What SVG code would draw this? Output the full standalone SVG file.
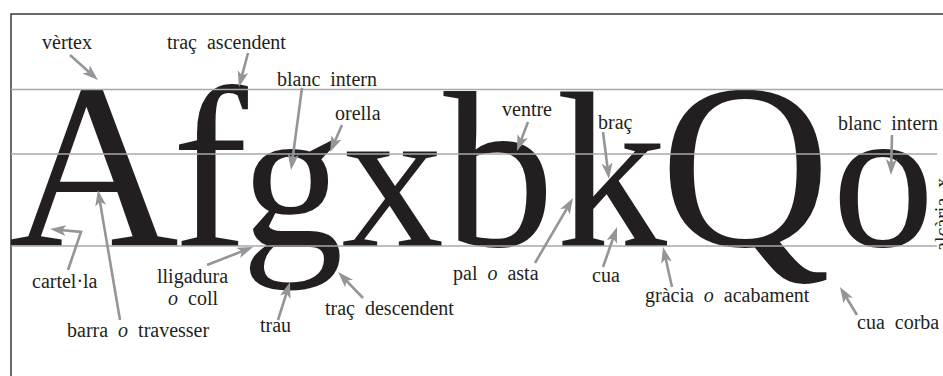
<svg xmlns="http://www.w3.org/2000/svg" width="943" height="376" viewBox="0 0 943 376">
<style>
.lbl{font-family:"Liberation Serif","Times New Roman",serif;font-size:20px;fill:#231f20;word-spacing:5px}
.big{font-family:"Liberation Serif","Times New Roman",serif;fill:#231f20}
.it{font-style:italic}
.guide{stroke:#a7a9ac;stroke-width:1.5;fill:none}
.frame{stroke:#3a3a3a;stroke-width:1.5;fill:none}
.arr{stroke:#939598;stroke-width:2.6;fill:none;marker-end:url(#ah)}
</style>
<defs>
<marker id="ah" markerUnits="userSpaceOnUse" markerWidth="16" markerHeight="11" refX="8" refY="5.5" orient="auto">
<path d="M0,0 L16,5.5 L0,11 L4,5.5 Z" fill="#939598"/>
</marker>
</defs>
<rect width="943" height="376" fill="#ffffff"/>
<g id="frame">
<path class="frame" d="M11,376 L11,14 L943,14"/>
</g>
<g id="letters">
<text class="big" x="8.5" y="246" font-size="236">A</text>
<text class="big" x="172" y="246" font-size="228">f</text>
<text class="big" x="241" y="246" font-size="205">g</text>
<text class="big" x="341.5" y="246" font-size="205">x</text>
<text class="big" x="443.5" y="246" font-size="222">b</text>
<text class="big" x="556" y="246" font-size="222">k</text>
<text class="big" x="660" y="246" font-size="236">Q</text>
<text class="big" x="832" y="246" font-size="205">o</text>
</g>
<g id="guides">
<line class="guide" x1="11" y1="89.5" x2="943" y2="89.5"/>
<line class="guide" x1="11" y1="154" x2="937" y2="154"/>
<line class="guide" x1="11" y1="246" x2="937" y2="246"/>
</g>
<g id="height-label">
<text class="lbl" transform="translate(949,251) rotate(-90)">alçària x</text>
</g>
<g id="connectors">
<line class="arr" x1="70" y1="55" x2="92" y2="74.7"/>
<line class="arr" x1="248" y1="53" x2="241" y2="79.3"/>
<line class="arr" x1="302" y1="88" x2="292.1" y2="162.1"/>
<line class="arr" x1="342" y1="125" x2="333.3" y2="144.7"/>
<line class="arr" x1="528" y1="122" x2="519.8" y2="143.5"/>
<line class="arr" x1="603" y1="132" x2="608" y2="171.1"/>
<line class="arr" x1="892" y1="135" x2="891.2" y2="167"/>
<polyline class="arr" points="68,270 81,232 58,229.8"/>
<line class="arr" x1="120" y1="320" x2="99.3" y2="197.9"/>
<line class="arr" x1="207" y1="265" x2="245.6" y2="249.9"/>
<line class="arr" x1="278" y1="320" x2="287.6" y2="289.6"/>
<line class="arr" x1="363" y1="298" x2="343.6" y2="277.8"/>
<line class="arr" x1="535" y1="263" x2="569" y2="204.9"/>
<line class="arr" x1="603" y1="267" x2="614.4" y2="234.5"/>
<line class="arr" x1="672" y1="287" x2="664.8" y2="254.8"/>
<line class="arr" x1="857" y1="315" x2="844.1" y2="293.8"/>
</g>
<g id="vertex"><text class="lbl" x="42" y="49">vèrtex</text></g>
<g id="trac-ascendent"><text class="lbl" x="167" y="49">traç ascendent</text></g>
<g id="blanc-intern-1"><text class="lbl" x="277" y="86">blanc intern</text></g>
<g id="orella"><text class="lbl" x="335" y="120">orella</text></g>
<g id="ventre"><text class="lbl" x="502" y="116">ventre</text></g>
<g id="brac"><text class="lbl" x="598" y="129">braç</text></g>
<g id="blanc-intern-2"><text class="lbl" x="838" y="130">blanc intern</text></g>
<g id="cartella"><text class="lbl" x="32" y="288">cartel·la</text></g>
<g id="lligadura"><text class="lbl" x="157" y="283">lligadura</text><text class="lbl" x="168" y="305"><tspan class="it">o</tspan> coll</text></g>
<g id="barra"><text class="lbl" x="67" y="337">barra <tspan class="it">o</tspan> travesser</text></g>
<g id="trau"><text class="lbl" x="260" y="332">trau</text></g>
<g id="trac-descendent"><text class="lbl" x="325" y="315">traç descendent</text></g>
<g id="pal"><text class="lbl" x="453" y="280">pal <tspan class="it">o</tspan> asta</text></g>
<g id="cua"><text class="lbl" x="592" y="282">cua</text></g>
<g id="gracia"><text class="lbl" x="645" y="302">gràcia <tspan class="it">o</tspan> acabament</text></g>
<g id="cua-corba"><text class="lbl" x="857" y="329">cua corba</text></g>
</svg>
